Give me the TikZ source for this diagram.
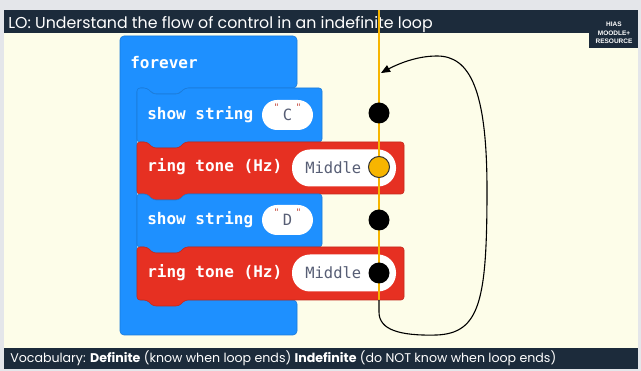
\documentclass[tikz,border=0pt]{standalone}
\usepackage{fontspec}
\setmonofont{DejaVu Sans Mono}
\newfontfamily\titlefont{Poppins}
\newfontfamily\badgefont{Liberation Sans}
\usetikzlibrary{arrows}

\definecolor{navy}{HTML}{1C2B3B}
\definecolor{cream}{HTML}{FDFDE9}
\definecolor{frame}{HTML}{E4E6EA}
\definecolor{mcblue}{HTML}{1E90FF}
\definecolor{mcblueedge}{HTML}{1A7AD9}
\definecolor{mcred}{HTML}{E63022}
\definecolor{mcrededge}{HTML}{C4281C}
\definecolor{flow}{HTML}{F7B500}
\definecolor{quote}{HTML}{C0392B}
\definecolor{pilltext}{HTML}{575E75}

% one stacked block: x0, y0, width, height, style
\newcommand\stackblock[5]{%
  \filldraw[#5] (#1,#2) -- ++(10,0) -- ++(6,6) -- ++(26,0) -- ++(6,-6) -- (#1+#3,#2)
    -- (#1+#3,#2+#4) -- (#1+48,#2+#4) -- ++(-6,6) -- ++(-26,0) -- ++(-6,-6) -- (#1,#2+#4) -- cycle;}

\begin{document}
\begin{tikzpicture}[x=1pt, y=-1pt, >=triangle 45, semithick,
    blocktext/.style={anchor=west, text=white, font=\ttfamily\bfseries\fontsize{16}{17}\selectfont, inner sep=0},
    pill/.style={fill=white, rounded corners=#1, inner sep=0},
    pilltxt/.style={text=pilltext, font=\ttfamily\fontsize{15.5}{16}\selectfont, inner sep=0},
    dot/.style={circle, fill=black, minimum size=21pt, inner sep=0}]
    \useasboundingbox (0,0) rectangle (641,371);
    \fill[frame] (0,0) rectangle (641,371);
    \fill[cream] (4,33) rectangle (638,348);
    \fill[navy] (4,10) rectangle (638,33);
    \fill[navy] (4,348) rectangle (638,369);
    \fill[navy] (589,10) rectangle (638,48);
    \node[anchor=base west, text=white, font=\titlefont\fontsize{15.8}{17}\selectfont, inner sep=0] (title) at (8,29)
        {LO: Understand the flow of control in an indefinite loop};
    \node[align=center, text=white, font=\badgefont\bfseries\fontsize{6.5}{8.5}\selectfont, inner sep=0] (badge) at (614,33)
        {HIAS\\MOODLE+\\RESOURCE};
    \node[anchor=base west, text=white, font=\titlefont\fontsize{12.6}{14}\selectfont, inner sep=0] (vocab) at (10,362.5)
        {Vocabulary: \textbf{Definite} (know when loop ends) \textbf{Indefinite} (do NOT know when loop ends)};

    % forever block
    \filldraw[fill=mcblue, draw=mcblueedge, rounded corners=4] (120,36) -- (297,36) -- (297,88) -- (185,88)
        -- ++(-6,6) -- ++(-26,0) -- ++(-6,-6) -- (137,88)
        -- (137,300) -- (297,300) -- (297,335) -- (120,335) -- cycle;
    \node[blocktext] (forever) at (130,63) {forever};

    % stacked blocks
    \stackblock{137}{88}{185}{54}{fill=mcblue, draw=mcblueedge, rounded corners=3}
    \stackblock{137}{142}{267}{52}{fill=mcred, draw=mcrededge, rounded corners=3}
    \stackblock{137}{194}{185}{53}{fill=mcblue, draw=mcblueedge, rounded corners=3}
    \stackblock{137}{247}{267}{53}{fill=mcred, draw=mcrededge, rounded corners=3}

    \node[blocktext] (show1) at (147,115) {show string};
    \node[blocktext] (ring1) at (147,167) {ring tone (Hz)};
    \node[blocktext] (show2) at (147,220) {show string};
    \node[blocktext] (ring2) at (147,273) {ring tone (Hz)};

    \node[pill=15pt, minimum width=51pt, minimum height=30pt] (strc) at (287.5,115) {};
    \node[pill=15pt, minimum width=51pt, minimum height=30pt] (strd) at (287.5,220) {};
    \node[pill=18pt, minimum width=104pt, minimum height=37pt] (tone1) at (344,168) {};
    \node[pill=18pt, minimum width=104pt, minimum height=37pt] (tone2) at (344,273) {};
    \node[pilltxt] (c) at (strc) {C};
    \node[pilltxt] (d) at (strd) {D};
    \foreach \p in {strc, strd} {
        \node[text=quote, font=\ttfamily\fontsize{9}{9}\selectfont, inner sep=0] at ([xshift=-11pt, yshift=8pt]\p) {"};
        \node[text=quote, font=\ttfamily\fontsize{9}{9}\selectfont, inner sep=0] at ([xshift=11pt, yshift=8pt]\p) {"};
    }
    \node[pilltxt, anchor=west] (mid1) at (305,168) {Middle};
    \node[pilltxt, anchor=west] (mid2) at (305,273) {Middle};

    % flow of control
    \coordinate (ltop) at (379,10);
    \coordinate (lbot) at (379,300);
    \coordinate (lend) at (381,73);
    \draw[flow, line width=2pt] (ltop) -- (lbot);
    \node[dot] (d1) at (379,113) {};
    \node[dot, fill=flow, draw=black!80, line width=1pt] (d2) at (379,167) {};
    \node[dot] (d3) at (379,220) {};
    \node[dot] (d4) at (379,273) {};
    \draw[->, black, line width=1.1pt] (lbot) -- ++(0,12) .. controls (379,330) and (400,336) .. (437,335)
        .. controls (480,333) and (487,300) .. (487,190) .. controls (487,90) and (470,56) .. (437,56)
        .. controls (415,56) and (395,65) .. (lend);
\end{tikzpicture}
\end{document}
